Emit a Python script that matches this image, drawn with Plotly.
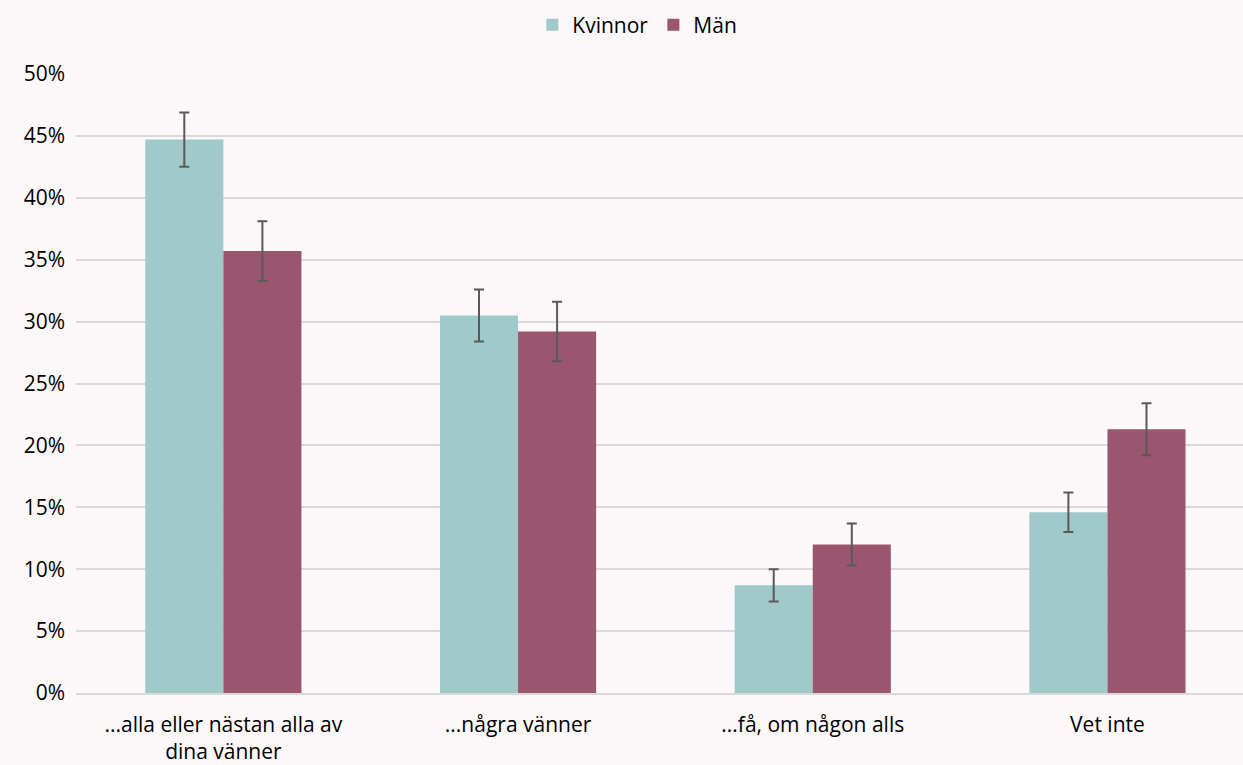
import plotly.graph_objects as go

categories = ["...alla eller nästan alla av<br>dina vänner", "...några vänner", "...få, om någon alls", "Vet inte"]
kvinnor = [0.447, 0.305, 0.087, 0.146]
kvinnor_err = [0.022, 0.021, 0.013, 0.016]
man = [0.357, 0.292, 0.120, 0.213]
man_err = [0.024, 0.024, 0.017, 0.021]

font = "Open Sans"
bg = "#FCF8F9"
err_style = dict(type="data", visible=True, color="#595959", thickness=2, width=5)

fig = go.Figure()
fig.add_trace(go.Bar(name="Kvinnor", x=categories, y=kvinnor, marker_color="#A0C9C9",
                     marker_line_width=0,
                     error_y=dict(array=kvinnor_err, **err_style)))
fig.add_trace(go.Bar(name="Män", x=categories, y=man, marker_color="#9B566F",
                     marker_line_width=0,
                     error_y=dict(array=man_err, **err_style)))

fig.update_layout(
    width=1243, height=765,
    paper_bgcolor=bg, plot_bgcolor=bg,
    barmode="group", bargap=0.47, bargroupgap=0,
    margin=dict(l=76, r=0, t=74, b=72),
    font=dict(family=font, size=21, color="#000000"),
    legend=dict(orientation="h", x=0.481, xanchor="center", y=1.079, yanchor="middle",
                font=dict(size=21), itemwidth=30, traceorder="normal"),
    xaxis=dict(range=[-0.5, 3.46], showgrid=False, showline=True, linecolor="#D9D9D9",
               linewidth=1.5, ticks="", tickfont=dict(size=21), ticklabelstandoff=12),
    yaxis=dict(range=[0, 0.5], dtick=0.05, tickformat=".0%", showgrid=True,
               gridcolor="#D9D9D9", gridwidth=1.5, zeroline=False, ticks="",
               tickfont=dict(size=21), ticklabelstandoff=10),
)
fig.write_html("out.html", config={"displayModeBar": False},
               post_script="document.body.style.margin='0';document.body.style.background='%s';" % bg)
